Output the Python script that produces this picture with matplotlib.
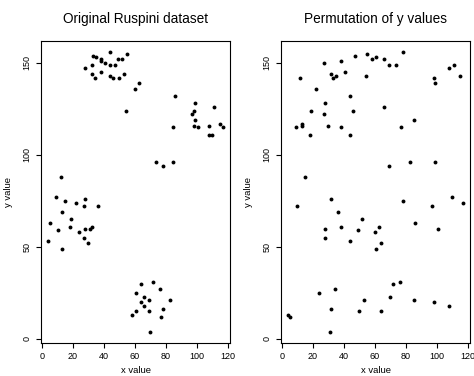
import matplotlib
matplotlib.use("Agg")
import matplotlib.pyplot as plt

plt.rcParams['font.family'] = ['Liberation Sans', 'DejaVu Sans']

# Ruspini data
ruspini_x = [4, 5, 10, 9, 13, 13, 12, 15, 18, 19, 22, 27, 28, 24, 27, 28, 30, 31, 32, 36,
             28, 32, 35, 33, 38, 41, 38, 38, 32, 34, 44, 44, 44, 46, 47, 49, 50, 53, 52, 55,
             54, 60, 63, 86, 85, 85, 78, 74, 97, 98, 98, 99, 99, 101, 108, 110, 108, 111, 115, 117,
             70, 77, 83, 61, 69, 78, 66, 58, 64, 69, 66, 61, 76, 72, 64]
ruspini_y = [53, 63, 59, 77, 49, 69, 88, 75, 61, 65, 74, 72, 76, 58, 55, 60, 52, 60, 61, 72,
             147, 149, 153, 154, 151, 150, 145, 152, 144, 142, 149, 156, 143, 142, 149, 152, 142, 144, 152, 155,
             124, 136, 139, 132, 115, 96, 94, 96, 122, 116, 124, 119, 128, 115, 111, 111, 116, 126, 117, 115,
             4, 12, 21, 15, 15, 16, 18, 13, 20, 21, 23, 25, 27, 31, 30]

# permuted pairing
perm_x = [4, 5, 9, 10, 12, 13, 13, 15, 18, 19, 22, 24, 27, 27, 28, 28, 28, 30, 31, 32,
          32, 32, 33, 34, 35, 36, 38, 38, 38, 41, 44, 44, 44, 46, 47, 49, 50, 52, 53, 54,
          55, 58, 60, 61, 61, 63, 64, 64, 66, 66, 69, 69, 70, 72, 74, 76, 77, 78, 78, 83,
          85, 85, 86, 97, 98, 98, 99, 99, 101, 108, 108, 110, 111, 115, 117]
perm_y = [13, 12, 115, 72, 142, 117, 116, 88, 111, 124, 136, 25, 150, 122, 128, 60, 55, 116, 4, 144,
          76, 16, 142, 27, 143, 69, 151, 115, 61, 145, 132, 111, 53, 124, 154, 59, 15, 65, 21, 143,
          155, 152, 58, 153, 49, 61, 52, 15, 152, 126, 149, 94, 23, 30, 149, 31, 115, 156, 75, 96,
          119, 21, 63, 72, 142, 20, 96, 139, 60, 147, 18, 77, 149, 143, 74]

titles = ["Original Ruspini dataset", "Permutation of y values"]

fig = plt.figure(figsize=(4.74, 3.76), dpi=100)
ax1 = fig.add_axes([0.0871, 0.0886, 0.398, 0.803])
ax2 = fig.add_axes([0.593, 0.0886, 0.3987, 0.803])

for ax, xs, ys, title in [(ax1, ruspini_x, ruspini_y, titles[0]),
                          (ax2, perm_x, perm_y, titles[1])]:
    ax.plot(xs, ys, 'o', color='black', markersize=2.8, markeredgewidth=0)
    ax.set_xlim(-0.52, 121.52)
    ax.set_ylim(-2.08, 162.08)
    ax.set_xticks([0, 20, 40, 60, 80, 100, 120])
    ax.set_yticks([0, 50, 100, 150])
    ax.set_yticklabels(['0', '50', '100', '150'], rotation=90, va='center')
    ax.tick_params(direction='out', length=3.5, width=0.8, labelsize=6.5, pad=3.5)
    for s in ax.spines.values():
        s.set_linewidth(0.8)
    ax.set_xlabel("x value", fontsize=6.8, labelpad=3)
    ax.set_ylabel("y value", fontsize=6.8, labelpad=7)
    ax.set_title(title, fontsize=9.8, pad=13)

fig.savefig("out.png", dpi=100)
